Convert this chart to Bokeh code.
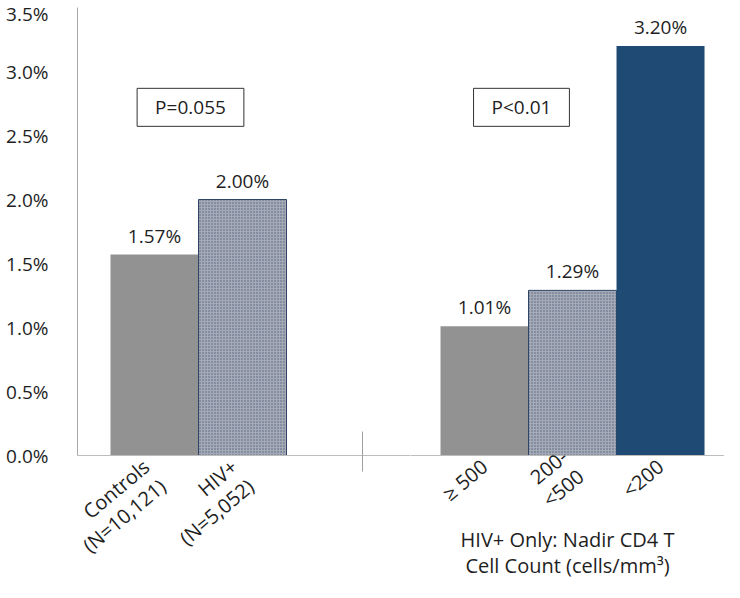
import math
from bokeh.plotting import figure
from bokeh.layouts import row
from bokeh.models import Range1d, FixedTicker, Label, PrintfTickFormatter
from bokeh.core.properties import value
from bokeh.embed import file_html
from bokeh.resources import INLINE

# ---- data ----
categories = ["Controls\n(N=10,121)", "HIV+\n(N=5,052)", "\u2265 500", "200-\n<500", "<200"]
rates = [1.57, 2.00, 1.01, 1.29, 3.20]          # percent
y_ticks = [0.0, 0.5, 1.0, 1.5, 2.0, 2.5, 3.0, 3.5]
p_values = ["P=0.055", "P<0.01"]
axis_title = ["HIV+ Only: Nadir CD4 T", "Cell Count (cells/mm\u00b3)"]

# ---- layout (positions / styles) ----
x_pos = [0.875, 1.875, 4.625, 5.625, 6.625]
panel = [0, 0, 1, 1, 1]
kind = ["gray", "hatch", "gray", "hatch", "navy"]
sep_pos = 3.24
p_pos = [(1.284, 2.72), (5.045, 2.72)]
split = 3.784           # boundary between the two panels (data units)
x_end = 7.352
FONT = "Open Sans"
TXT = "#1e1e1e"


def make_panel(k, width, x0, x1, left_border, with_y):
    f = figure(width=width, height=582, output_backend="svg", toolbar_location=None,
               x_range=Range1d(x0, x1), y_range=Range1d(0, 3.5),
               y_axis_location="left" if with_y else None,
               min_border_left=left_border, min_border_right=0,
               min_border_top=7, min_border_bottom=127)
    f.outline_line_color = None
    f.xgrid.visible = False
    f.ygrid.visible = False
    idx = [i for i in range(len(rates)) if panel[i] == k]
    for kd in ["gray", "hatch", "navy"]:
        ii = [i for i in idx if kind[i] == kd]
        if not ii:
            continue
        xs = [x_pos[i] for i in ii]
        ys = [rates[i] for i in ii]
        if kd == "gray":
            f.vbar(x=xs, top=ys, width=1.0, bottom=0, fill_color="#929292", line_color=None)
        elif kd == "hatch":
            f.vbar(x=xs, top=ys, width=1.0, bottom=0, fill_color="#a5abb6", line_color="#2e4566",
                   line_width=1, hatch_pattern="dot", hatch_scale=3, hatch_color="#2f4365",
                   hatch_weight=1, hatch_alpha=0.7)
        else:
            f.vbar(x=xs, top=ys, width=1.0, bottom=0, fill_color="#1f4a73", line_color=None)
    f.text(x=[x_pos[i] for i in idx], y=[rates[i] for i in idx],
           text=[f"{rates[i]:.2f}%" for i in idx], text_align="center",
           text_baseline="bottom", y_offset=-6, text_font=value(FONT),
           text_font_size="19px", text_color=TXT)

    xa = f.xaxis[0]
    xa.ticker = FixedTicker(ticks=[x_pos[i] for i in idx],
                            minor_ticks=[sep_pos] if x0 < sep_pos < x1 else [])
    xa.major_label_overrides = {x_pos[i]: categories[i] for i in idx}
    xa.major_tick_line_color = None
    xa.minor_tick_line_color = "#a0a0a0"
    xa.minor_tick_in = 24
    xa.minor_tick_out = 16
    xa.axis_line_color = "#bdbdbd"
    xa.major_label_orientation = math.radians(40)
    xa.major_label_text_font = FONT
    xa.major_label_text_font_size = "20px"
    xa.major_label_text_line_height = 0.95
    xa.major_label_text_color = TXT
    xa.major_label_standoff = 2

    if with_y:
        ya = f.yaxis[0]
        ya.ticker = FixedTicker(ticks=y_ticks)
        ya.formatter = PrintfTickFormatter(format="%.1f%%")
        ya.major_tick_line_color = None
        ya.minor_tick_line_color = None
        ya.axis_line_color = "#a8a8a8"
        ya.major_label_text_font = FONT
        ya.major_label_text_font_size = "19px"
        ya.major_label_text_color = TXT
        ya.major_label_standoff = 23

    px, py = p_pos[k]
    f.add_layout(Label(x=px, y=py, text=p_values[k], text_align="center", text_baseline="middle",
                       text_font=FONT, text_font_size="19px", text_color=TXT,
                       background_fill_color="white", border_line_color="#333333",
                       border_line_width=1, padding=(18, 18, 6, 6)))
    return f


left = make_panel(0, 410, 0, split, 77, True)
right = make_panel(1, 314, split, x_end, 0, False)

xb = right.xaxis[0]
xb.axis_label = "\n".join(axis_title)
xb.axis_label_standoff = -10
xb.axis_label_text_font = FONT
xb.axis_label_text_font_style = "normal"
xb.axis_label_text_font_size = "20px"
xb.axis_label_text_line_height = 0.95
xb.axis_label_text_color = TXT

layout = row(left, right, spacing=0)
open("out.html", "w").write(file_html(layout, INLINE))
